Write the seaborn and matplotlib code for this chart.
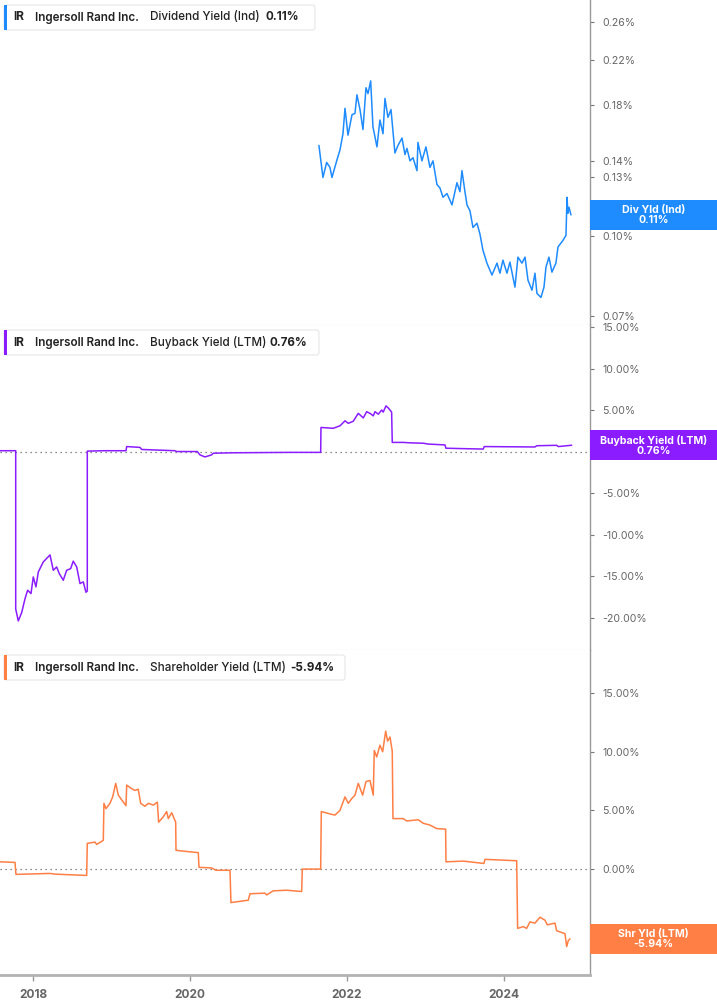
#!/usr/bin/env python3
"""
Purpose: IR dividend / buyback / shareholder yield panels
"""

import matplotlib
matplotlib.use('Agg')
import matplotlib.pyplot as plt
from matplotlib.patches import FancyBboxPatch, Rectangle
from matplotlib.ticker import FixedLocator, FuncFormatter, NullLocator
import pandas as pd
import seaborn as sns

TICKER = 'IR'
COMPANY = 'Ingersoll Rand Inc.'

# dividend yield (indicated), in %, x in decimal years
DIV_YEARS = [
    2021.643, 2021.694, 2021.741, 2021.783, 2021.809, 2021.869, 2021.911,
    2021.949, 2021.975, 2022.013, 2022.064, 2022.102, 2022.127, 2022.166,
    2022.204, 2022.242, 2022.268, 2022.302, 2022.331, 2022.382, 2022.420,
    2022.459, 2022.484, 2022.522, 2022.561, 2022.611, 2022.650, 2022.701,
    2022.739, 2022.764, 2022.803, 2022.841, 2022.892, 2022.904, 2022.955,
    2023.006, 2023.057, 2023.096, 2023.146, 2023.185, 2023.223, 2023.274,
    2023.338, 2023.401, 2023.439, 2023.465, 2023.503, 2023.529, 2023.567,
    2023.605, 2023.656, 2023.694, 2023.732, 2023.783, 2023.847, 2023.911,
    2023.949, 2023.987, 2024.038, 2024.076, 2024.140, 2024.178, 2024.229,
    2024.268, 2024.306, 2024.357, 2024.395, 2024.420, 2024.471, 2024.510,
    2024.535, 2024.573, 2024.611, 2024.662, 2024.688, 2024.752, 2024.790,
    2024.803, 2024.815, 2024.828, 2024.854]
DIV_VALUES = [
    0.150, 0.130, 0.139, 0.136, 0.130, 0.140, 0.147, 0.158, 0.177, 0.157,
    0.172, 0.173, 0.188, 0.176, 0.161, 0.194, 0.189, 0.200, 0.163, 0.149,
    0.168, 0.158, 0.185, 0.170, 0.176, 0.145, 0.150, 0.155, 0.144, 0.148,
    0.140, 0.142, 0.134, 0.152, 0.140, 0.149, 0.136, 0.140, 0.126, 0.124,
    0.119, 0.121, 0.115, 0.127, 0.122, 0.134, 0.122, 0.115, 0.112, 0.104,
    0.106, 0.101, 0.094, 0.0887, 0.0841, 0.0887, 0.0848, 0.0899, 0.0848,
    0.0891, 0.0797, 0.0911, 0.0887, 0.0911, 0.0822, 0.0786, 0.0848, 0.0775,
    0.0761, 0.0797, 0.0871, 0.0911, 0.0852, 0.0887, 0.0953, 0.0982, 0.1004,
    0.119, 0.1108, 0.1138, 0.110]

# buyback yield (LTM), in %
BB_YEARS = [
    2017.580, 2017.780, 2017.780, 2017.813, 2017.856, 2017.898, 2017.932,
    2017.975, 2018.004, 2018.038, 2018.068, 2018.131, 2018.217, 2018.259,
    2018.302, 2018.335, 2018.386, 2018.429, 2018.480, 2018.513, 2018.557,
    2018.599, 2018.641, 2018.675, 2018.692, 2018.692, 2018.896, 2019.185,
    2019.194, 2019.363, 2019.385, 2019.809, 2019.830, 2020.093, 2020.127,
    2020.191, 2020.276, 2020.297, 2020.548, 2021.274, 2021.665, 2021.669,
    2021.825, 2021.911, 2021.975, 2022.017, 2022.080, 2022.144, 2022.208,
    2022.251, 2022.293, 2022.335, 2022.357, 2022.399, 2022.442, 2022.462,
    2022.497, 2022.526, 2022.569, 2022.577, 2022.717, 2022.803, 2022.972,
    2023.036, 2023.248, 2023.261, 2023.482, 2023.736, 2023.749, 2024.395,
    2024.417, 2024.671, 2024.692, 2024.799, 2024.863]
BB_VALUES = [
    0.1, 0.1, -18.95, -20.4, -19.4, -17.75, -16.7, -17.1, -15.1, -16.3,
    -14.5, -13.3, -12.45, -14.3, -13.9, -14.7, -15.5, -14.3, -14.1, -13.2,
    -13.9, -15.9, -15.7, -16.95, -16.8, 0.05, 0.1, 0.1, 0.6, 0.5,
    0.25, 0.1, 0.0, 0.0, -0.4, -0.65, -0.4, -0.2, -0.15, -0.1,
    -0.1, 2.9, 2.8, 3.1, 3.7, 3.4, 3.65, 4.6, 4.05, 4.8,
    4.6, 4.3, 4.8, 4.5, 5.0, 4.75, 5.5, 5.25, 4.75, 1.1,
    1.1, 1.05, 1.0, 0.9, 0.8, 0.4, 0.35, 0.3, 0.6, 0.55,
    0.7, 0.75, 0.6, 0.7, 0.76]

# shareholder yield (LTM), in %
SHR_YEARS = [
    2017.580, 2017.771, 2017.783, 2018.217, 2018.280, 2018.684, 2018.692,
    2018.790, 2018.812, 2018.896, 2018.904, 2018.930, 2018.981, 2019.015,
    2019.054, 2019.087, 2019.130, 2019.185, 2019.194, 2019.257, 2019.299,
    2019.341, 2019.372, 2019.427, 2019.469, 2019.533, 2019.584, 2019.601,
    2019.660, 2019.703, 2019.724, 2019.767, 2019.818, 2019.822, 2019.958,
    2020.106, 2020.115, 2020.276, 2020.331, 2020.510, 2020.522, 2020.743,
    2020.764, 2020.955, 2020.977, 2021.061, 2021.232, 2021.401, 2021.423,
    2021.431, 2021.665, 2021.673, 2021.783, 2021.847, 2021.911, 2021.975,
    2022.017, 2022.060, 2022.102, 2022.144, 2022.200, 2022.242, 2022.293,
    2022.335, 2022.348, 2022.379, 2022.420, 2022.455, 2022.493, 2022.518,
    2022.548, 2022.577, 2022.586, 2022.717, 2022.760, 2022.908, 2022.972,
    2023.057, 2023.143, 2023.257, 2023.261, 2023.482, 2023.745, 2023.758,
    2024.162, 2024.174, 2024.246, 2024.289, 2024.331, 2024.395, 2024.459,
    2024.522, 2024.552, 2024.650, 2024.671, 2024.777, 2024.799, 2024.819,
    2024.841]
SHR_VALUES = [
    0.62, 0.57, -0.45, -0.37, -0.43, -0.54, 2.19, 2.3, 2.1, 2.45,
    5.6, 5.15, 5.6, 6.15, 7.3, 6.3, 5.9, 5.4, 7.15, 6.85,
    6.7, 6.8, 5.6, 5.35, 5.6, 5.45, 5.7, 4.0, 4.45, 4.9,
    4.3, 4.8, 4.0, 1.6, 1.5, 1.4, 0.15, 0.1, -0.1, -0.1,
    -2.85, -2.65, -2.1, -2.05, -2.2, -1.85, -1.8, -1.9, -1.9, 0.0,
    0.0, 4.9, 4.7, 4.6, 5.0, 6.15, 5.6, 6.0, 6.3, 7.3,
    6.3, 7.45, 7.55, 6.3, 10.1, 9.55, 10.55, 10.0, 11.75, 10.9,
    11.25, 10.05, 4.3, 4.3, 4.1, 4.2, 3.9, 3.75, 3.45, 3.4,
    0.62, 0.68, 0.48, 0.83, 0.71, -5.05, -4.9, -5.05, -4.5, -4.6,
    -4.1, -4.35, -4.75, -4.6, -5.25, -5.5, -6.6, -6.1, -5.94]

DIV_TICKS = [0.07, 0.10, 0.13, 0.14, 0.18, 0.22, 0.26]
BB_TICKS = [15, 10, 5, 0, -5, -10, -15, -20]
SHR_TICKS = [15, 10, 5, 0, -5]
YEAR_TICKS = [2018, 2020, 2022, 2024]

BLUE = '#1e8bff'
PURPLE = '#8b1cff'
ORANGE = '#ff7f45'

W, H = 717, 1005
X_MIN, X_MAX = 2017.58, 2025.096


# --------------------------------------------------
def fx(px):
    return px / W


def fy(py):
    return 1 - py / H


# --------------------------------------------------
def make_axes(fig, top, bottom):
    return fig.add_axes([0, fy(bottom), fx(590), (bottom - top) / H])


# --------------------------------------------------
def style_axes(ax, ticks, ylim, log=False):
    ax.set_xlim(X_MIN, X_MAX)
    if log:
        ax.set_yscale('log')
    ax.set_ylim(*ylim)
    ax.yaxis.tick_right()
    ax.yaxis.set_major_locator(FixedLocator(ticks))
    ax.yaxis.set_minor_locator(NullLocator())
    ax.yaxis.set_major_formatter(FuncFormatter(lambda v, p: f'{v:.2f}%'))
    ax.tick_params(axis='y', which='major', right=True, length=3, width=0.8,
                   color='#777', labelcolor='#666', labelsize=7.6, pad=6)
    ax.set_xlabel('')
    ax.set_ylabel('')
    ax.set_facecolor('white')
    for side in ['left', 'top', 'bottom']:
        ax.spines[side].set_visible(False)
    ax.spines['right'].set_color('#999')
    ax.spines['right'].set_linewidth(1.0)


# --------------------------------------------------
def header(fig, top, width, color, metric, value, value_x):
    box = FancyBboxPatch((fx(4), fy(top + 25)), fx(width), 25 / H,
                         boxstyle='round,pad=0,rounding_size=0.003',
                         transform=fig.transFigure, facecolor='white',
                         edgecolor='#e6e6e6', linewidth=0.8, zorder=5)
    fig.patches.append(box)
    bar = Rectangle((fx(4), fy(top + 25)), fx(3), 25 / H,
                    transform=fig.transFigure, facecolor=color,
                    edgecolor='none', zorder=6)
    fig.patches.append(bar)
    yc = fy(top + 12.5)
    kw = dict(va='center', ha='left', size=8.4, color='#222', zorder=7)
    fig.text(fx(13), yc, TICKER, weight='bold', **kw)
    fig.text(fx(35), yc, COMPANY, weight='semibold', **kw)
    fig.text(fx(150), yc, metric, weight='medium', **kw)
    fig.text(fx(value_x), yc, value, weight='bold', **kw)


# --------------------------------------------------
def end_label(fig, ax, x, y, color, text):
    ydisp = ax.transData.transform((x, y))[1]
    yc = ydisp / fig.dpi / fig.get_figheight()
    rect = Rectangle((fx(590), yc - 15 / H), fx(127), 30 / H,
                     transform=fig.transFigure, facecolor=color,
                     edgecolor='none', zorder=10, clip_on=False)
    fig.patches.append(rect)
    fig.text(fx(653.5), yc, text, ha='center', va='center', color='white',
             weight='bold', size=7.6, linespacing=1.05, zorder=11)


# --------------------------------------------------
def main():
    sns.set_style('white')
    plt.rcParams['font.family'] = ['Inter', 'DejaVu Sans']

    fig = plt.figure(figsize=(W / 100, H / 100), dpi=100)
    fig.patch.set_facecolor('white')

    ax_div = make_axes(fig, 0, 325)
    ax_bb = make_axes(fig, 325, 650)
    ax_shr = make_axes(fig, 650, 975)

    div = pd.DataFrame({'year': DIV_YEARS, 'value': DIV_VALUES})
    bb = pd.DataFrame({'year': BB_YEARS, 'value': BB_VALUES})
    shr = pd.DataFrame({'year': SHR_YEARS, 'value': SHR_VALUES})

    for ax, df, color in [(ax_div, div, BLUE), (ax_bb, bb, PURPLE),
                          (ax_shr, shr, ORANGE)]:
        sns.lineplot(data=df, x='year', y='value', ax=ax, color=color,
                     linewidth=1.1, estimator=None, sort=False, legend=False)

    style_axes(ax_div, DIV_TICKS, (0.0673, 0.287), log=True)
    style_axes(ax_bb, BB_TICKS, (-23.9, 15.24))
    style_axes(ax_shr, SHR_TICKS, (-9.02, 18.66))

    for ax in (ax_bb, ax_shr):
        ax.axhline(0, color='#666', linestyle=(0, (1, 3)), linewidth=0.9,
                   zorder=1)

    ax_div.spines['bottom'].set_visible(True)
    ax_div.spines['bottom'].set_color('#cfcfcf')
    ax_bb.spines['bottom'].set_visible(True)
    ax_bb.spines['bottom'].set_color('#cfcfcf')
    ax_shr.spines['bottom'].set_visible(True)
    ax_shr.spines['bottom'].set_color('#b3b3b3')
    ax_shr.spines['bottom'].set_linewidth(2.0)

    for ax in (ax_div, ax_bb):
        ax.set_xticks([])
    ax_shr.set_xticks(YEAR_TICKS)
    ax_shr.set_xticklabels([str(y) for y in YEAR_TICKS])
    ax_shr.tick_params(axis='x', bottom=True, length=4, width=1.0,
                       color='#999', labelcolor='#666', labelsize=8.6, pad=6)
    for lbl in ax_shr.get_xticklabels():
        lbl.set_fontweight('bold')

    header(fig, 5, 311, BLUE, 'Dividend Yield (Ind)', '0.11%', 266)
    header(fig, 330, 315, PURPLE, 'Buyback Yield (LTM)', '0.76%', 270)
    header(fig, 655, 341, ORANGE, 'Shareholder Yield (LTM)', '-5.94%', 290)

    end_label(fig, ax_div, DIV_YEARS[-1], DIV_VALUES[-1], BLUE,
              'Div Yld (Ind)\n0.11%')
    end_label(fig, ax_bb, BB_YEARS[-1], BB_VALUES[-1], PURPLE,
              'Buyback Yield (LTM)\n0.76%')
    end_label(fig, ax_shr, SHR_YEARS[-1], SHR_VALUES[-1], ORANGE,
              'Shr Yld (LTM)\n-5.94%')

    fig.savefig('out.png', dpi=100, facecolor='white')


# --------------------------------------------------
if __name__ == '__main__':
    main()
